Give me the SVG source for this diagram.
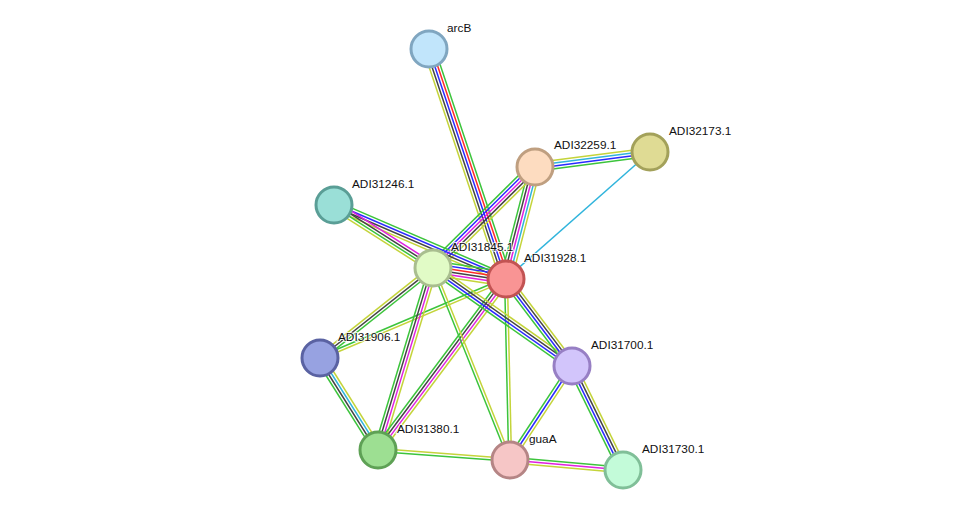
<svg xmlns="http://www.w3.org/2000/svg" width="975" height="516" viewBox="0 0 975 516">
<style>
line{stroke-width:1.5;fill:none}
.g{stroke:#3cc43c}.r{stroke:#ff2a2a}.b{stroke:#2a2aff}.k{stroke:#444444}.m{stroke:#e020e0}.c{stroke:#30b4dc}.y{stroke:#c4d43a}
circle{stroke-width:3}
text{font-family:"Liberation Sans",Arial,sans-serif;font-size:11.8px;fill:#111;stroke:#fff;stroke-width:2;paint-order:stroke;stroke-opacity:0.8}
</style>
<rect width="975" height="516" fill="#fff"/>
<g id="edges">
<g transform="translate(429 49) rotate(71.5)"><line x2="242.5" y1="5.6" y2="5.6" class="y"/><line x2="242.5" y1="2.8" y2="2.8" class="k"/><line x2="242.5" class="b"/><line x2="242.5" y1="-2.8" y2="-2.8" class="r"/><line x2="242.5" y1="-5.6" y2="-5.6" class="g"/></g>
<g transform="translate(535 167) rotate(-7.4)"><line x2="116" y1="-4.2" y2="-4.2" class="y"/><line x2="116" y1="-1.4" y2="-1.4" class="c"/><line x2="116" y1="1.4" y2="1.4" class="b"/><line x2="116" y1="4.2" y2="4.2" class="g"/></g>
<line x1="650" y1="152" x2="506" y2="279" class="c"/>
<g transform="translate(535 167) rotate(104.5)"><line x2="115.7" y1="5.6" y2="5.6" class="g"/><line x2="115.7" y1="2.8" y2="2.8" class="k"/><line x2="115.7" class="m"/><line x2="115.7" y1="-2.8" y2="-2.8" class="c"/><line x2="115.7" y1="-5.6" y2="-5.6" class="y"/></g>
<g transform="translate(535 167) rotate(135.3)"><line x2="143.5" y1="5.6" y2="5.6" class="g"/><line x2="143.5" y1="2.8" y2="2.8" class="b"/><line x2="143.5" class="m"/><line x2="143.5" y1="-2.8" y2="-2.8" class="k"/><line x2="143.5" y1="-5.6" y2="-5.6" class="y"/></g>
<g transform="translate(334 205) rotate(23.3)"><line x2="187.2" y1="-4.2" y2="-4.2" class="g"/><line x2="187.2" y1="-1.4" y2="-1.4" class="b"/><line x2="187.2" y1="1.4" y2="1.4" class="k"/><line x2="187.2" y1="4.2" y2="4.2" class="y"/></g>
<g transform="translate(334 205) rotate(32.5)"><line x2="117.3" y1="-4.2" y2="-4.2" class="m"/><line x2="117.3" y1="-1.4" y2="-1.4" class="k"/><line x2="117.3" y1="1.4" y2="1.4" class="g"/><line x2="117.3" y1="4.2" y2="4.2" class="y"/></g>
<g transform="translate(433 268) rotate(8.6)"><line x2="73.8" y1="-7" y2="-7" class="g"/><line x2="73.8" y1="-4.2" y2="-4.2" class="b"/><line x2="73.8" y1="-1.4" y2="-1.4" class="r"/><line x2="73.8" y1="1.4" y2="1.4" class="k"/><line x2="73.8" y1="4.2" y2="4.2" class="m"/><line x2="73.8" y1="7" y2="7" class="y"/></g>
<g transform="translate(320 358) rotate(-38.5)"><line x2="144.5" y1="-2.8" y2="-2.8" class="y"/><line x2="144.5" class="k"/><line x2="144.5" y1="2.8" y2="2.8" class="g"/></g>
<g transform="translate(320 358) rotate(-23)"><line x2="202.1" y1="-1.4" y2="-1.4" class="g"/><line x2="202.1" y1="1.4" y2="1.4" class="y"/></g>
<g transform="translate(320 358) rotate(57.8)"><line x2="108.8" y1="4.2" y2="4.2" class="g"/><line x2="108.8" y1="1.4" y2="1.4" class="k"/><line x2="108.8" y1="-1.4" y2="-1.4" class="c"/><line x2="108.8" y1="-4.2" y2="-4.2" class="y"/></g>
<g transform="translate(433 268) rotate(106.8)"><line x2="190.1" y1="4.2" y2="4.2" class="g"/><line x2="190.1" y1="1.4" y2="1.4" class="k"/><line x2="190.1" y1="-1.4" y2="-1.4" class="m"/><line x2="190.1" y1="-4.2" y2="-4.2" class="y"/></g>
<g transform="translate(506 279) rotate(126.8)"><line x2="213.6" y1="4.2" y2="4.2" class="g"/><line x2="213.6" y1="1.4" y2="1.4" class="k"/><line x2="213.6" y1="-1.4" y2="-1.4" class="m"/><line x2="213.6" y1="-4.2" y2="-4.2" class="y"/></g>
<g transform="translate(378 450) rotate(4.3)"><line x2="132.4" y1="-1.4" y2="-1.4" class="y"/><line x2="132.4" y1="1.4" y2="1.4" class="g"/></g>
<g transform="translate(433 268) rotate(68.1)"><line x2="206.9" y1="1.4" y2="1.4" class="g"/><line x2="206.9" y1="-1.4" y2="-1.4" class="y"/></g>
<g transform="translate(506 279) rotate(88.7)"><line x2="181" y1="1.4" y2="1.4" class="g"/><line x2="181" y1="-1.4" y2="-1.4" class="y"/></g>
<g transform="translate(433 268) rotate(35.2)"><line x2="170.1" y1="-4.2" y2="-4.2" class="y"/><line x2="170.1" y1="-1.4" y2="-1.4" class="k"/><line x2="170.1" y1="1.4" y2="1.4" class="b"/><line x2="170.1" y1="4.2" y2="4.2" class="g"/></g>
<g transform="translate(506 279) rotate(52.8)"><line x2="109.2" y1="4.2" y2="4.2" class="g"/><line x2="109.2" y1="1.4" y2="1.4" class="b"/><line x2="109.2" y1="-1.4" y2="-1.4" class="k"/><line x2="109.2" y1="-4.2" y2="-4.2" class="y"/></g>
<g transform="translate(572 366) rotate(123.4)"><line x2="112.6" y1="2.8" y2="2.8" class="g"/><line x2="112.6" class="b"/><line x2="112.6" y1="-2.8" y2="-2.8" class="y"/></g>
<g transform="translate(572 366) rotate(63.9)"><line x2="115.8" y1="4.2" y2="4.2" class="g"/><line x2="115.8" y1="1.4" y2="1.4" class="b"/><line x2="115.8" y1="-1.4" y2="-1.4" class="k"/><line x2="115.8" y1="-4.2" y2="-4.2" class="y"/></g>
<g transform="translate(510 460) rotate(5.1)"><line x2="113.4" y1="-2.8" y2="-2.8" class="g"/><line x2="113.4" class="m"/><line x2="113.4" y1="2.8" y2="2.8" class="y"/></g>
</g>
<g id="node-arcB"><circle cx="429" cy="49" r="18" fill="#c1e5fb" stroke="#80a6c0"/><text x="447" y="32">arcB</text></g>
<g id="node-ADI32259.1"><circle cx="535" cy="167" r="18" fill="#fddcc0" stroke="#bf9f80"/><text x="554" y="149">ADI32259.1</text></g>
<g id="node-ADI32173.1"><circle cx="650" cy="152" r="18" fill="#dfdb94" stroke="#a3a15a"/><text x="669" y="135">ADI32173.1</text></g>
<g id="node-ADI31246.1"><circle cx="334" cy="205" r="18" fill="#9adfd7" stroke="#5a9e96"/><text x="352" y="188">ADI31246.1</text></g>
<g id="node-ADI31845.1"><circle cx="433" cy="268" r="18" fill="#e1fbc6" stroke="#a9be8f"/><text x="451" y="251">ADI31845.1</text></g>
<g id="node-ADI31928.1"><circle cx="506" cy="279" r="18" fill="#f99494" stroke="#c25353"/><text x="524" y="262">ADI31928.1</text></g>
<g id="node-ADI31906.1"><circle cx="320" cy="358" r="18" fill="#97a2e1" stroke="#5a62a2"/><text x="338" y="341">ADI31906.1</text></g>
<g id="node-ADI31700.1"><circle cx="572" cy="366" r="18" fill="#d2c5fb" stroke="#977fc4"/><text x="591" y="349">ADI31700.1</text></g>
<g id="node-ADI31380.1"><circle cx="378" cy="450" r="18" fill="#9ddf92" stroke="#5ea155"/><text x="397" y="433">ADI31380.1</text></g>
<g id="node-guaA"><circle cx="510" cy="460" r="18" fill="#f6c6c6" stroke="#b58585"/><text x="529" y="443">guaA</text></g>
<g id="node-ADI31730.1"><circle cx="623" cy="470" r="18" fill="#c3fbd9" stroke="#80bf98"/><text x="642" y="453">ADI31730.1</text></g>
</svg>
